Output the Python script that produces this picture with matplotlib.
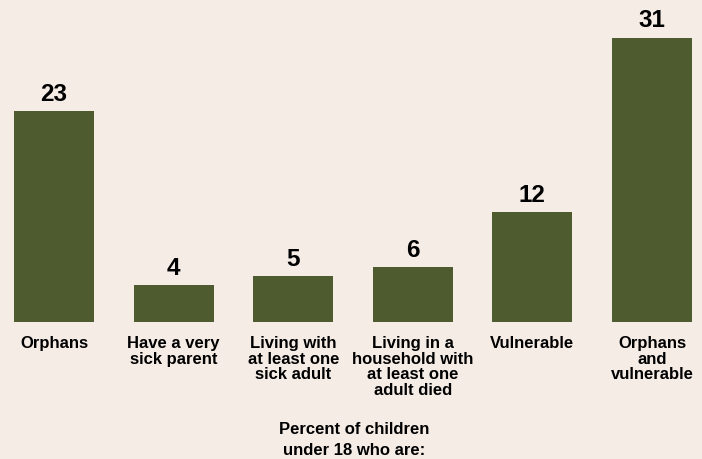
import matplotlib
matplotlib.use("Agg")
import matplotlib.pyplot as plt

categories = ["Orphans", "Have a very\nsick parent", "Living with\nat least one\nsick adult",
              "Living in a\nhousehold with\nat least one\nadult died", "Vulnerable", "Orphans\nand\nvulnerable"]
values = [23, 4, 5, 6, 12, 31]
axis_title = "Percent of children\nunder 18 who are:"

bg = "#F5ECE6"
bar_color = "#4E5B2E"
plt.rcParams['font.family'] = ['Liberation Sans', 'DejaVu Sans']

fig = plt.figure(figsize=(7.02, 4.60), dpi=100, facecolor=bg)
ax = fig.add_axes([0, 137/460, 1, 323/460])
ax.set_facecolor(bg)
x = list(range(len(values)))
ax.bar(x, values, width=0.669, color=bar_color)
ax.set_xlim(-0.4515, 5.418)
ax.set_ylim(0, 35.2)
for xi, v in zip(x, values):
    ax.annotate(str(v), (xi, v), xytext=(0, 4.5), textcoords="offset points",
                ha="center", va="bottom", fontsize=17.5, fontweight="bold")
for xi, c in zip(x, categories):
    ax.annotate(c, (xi, 0), xytext=(0, -9.5), textcoords="offset points",
                ha="center", va="top", fontsize=12, fontweight="bold",
                linespacing=1.05)
fig.text(354.5 / 702, 1 - 422/460, axis_title, ha="center", va="top",
         fontsize=12, fontweight="bold", linespacing=1.5)
for s in ax.spines.values():
    s.set_visible(False)
ax.set_xticks([])
ax.set_yticks([])
fig.savefig("out.png", dpi=100, facecolor=bg)
